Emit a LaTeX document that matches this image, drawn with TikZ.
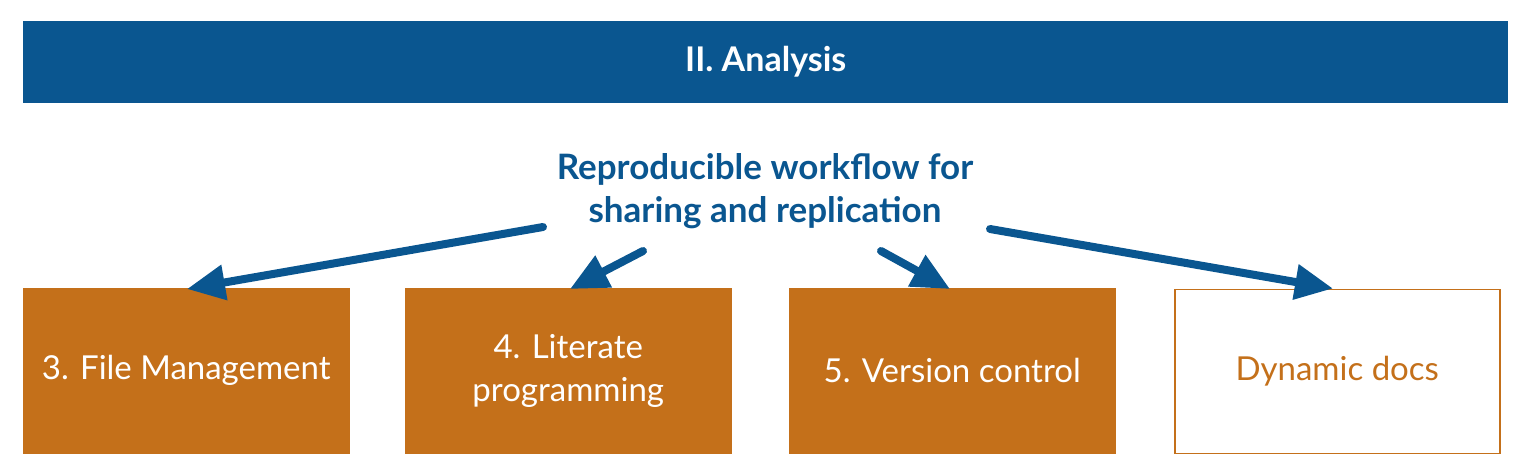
\documentclass[tikz,border=0pt]{standalone}
\usepackage{fontspec}
\setmainfont{Lato}
\usetikzlibrary{arrows.meta,calc}
\definecolor{bannerblue}{HTML}{0A5690}
\definecolor{ochre}{HTML}{C4701A}
\tikzset{
  stagebox/.style={draw=ochre, line width=1.5pt, minimum width=325pt, minimum height=164pt, inner sep=0pt, anchor=north west, align=center, font=\fontsize{33}{43}\selectfont},
  filledbox/.style={stagebox, fill=ochre, text=white},
  emptybox/.style={stagebox, fill=white, text=ochre},
  flowarrow/.style={draw=bannerblue, line width=8pt, line cap=round, -{Triangle[length=38pt,width=34pt]}}
}
\begin{document}
\begin{tikzpicture}[x=1pt,y=-1pt]
\useasboundingbox (0,0) rectangle (1520,474);
\node[fill=bannerblue, minimum width=1485pt, minimum height=82pt, inner sep=0pt, anchor=north west, text=white, font=\fontsize{34}{40}\selectfont\bfseries] (banner) at (23,21) {II. Analysis};
\node[text=bannerblue, align=center, font=\fontsize{35}{43}\selectfont\bfseries] (title) at (765,191) {Reproducible workflow for\\sharing and replication};
\node[filledbox] (b1) at (23,288) {3. File Management};
\node[filledbox] (b2) at (405,288) {4. Literate\\programming};
\node[filledbox] (b3) at (789,288) {5. Version control};
\node[emptybox] (b4) at (1174,288.5) {Dynamic docs};
\coordinate (s1) at (543,227);
\coordinate (s2) at (643,251);
\coordinate (s3) at (881,251);
\coordinate (s4) at (990,229);
\coordinate (e1) at ($(b1.north west)+(164,1)$);
\coordinate (e2) at ($(b2.north west)+(165,1)$);
\coordinate (e3) at ($(b3.north west)+(161,1)$);
\coordinate (e4) at ($(b4.north west)+(159,0)$);
\draw[flowarrow] (s1) -- (e1);
\draw[flowarrow] (s2) -- (e2);
\draw[flowarrow] (s3) -- (e3);
\draw[flowarrow] (s4) -- (e4);
\end{tikzpicture}
\end{document}
